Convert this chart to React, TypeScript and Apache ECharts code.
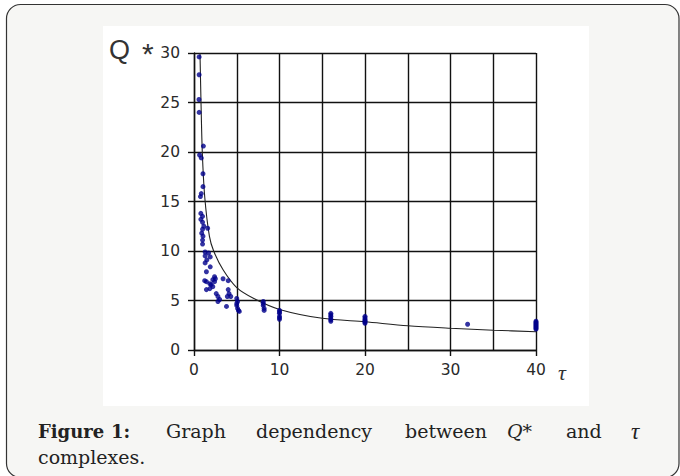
import React, { useEffect, useRef } from "react";
import * as echarts from "echarts";

// Scatter points (tau, Q*)
const tauValues = [
  0.6, 0.6, 0.58, 0.6, 1.1, 0.65, 0.85, 1.05, 1.05, 0.85, 0.75,
  0.8, 1.0, 0.8, 1.0, 1.15, 1.0, 1.6, 0.9, 1.05, 1.0, 1.0,
  1.3, 1.7, 1.3, 1.9, 1.5, 1.3, 1.9, 1.45,
  1.25, 1.45, 1.85, 2.0, 2.2, 2.4, 2.2, 1.45, 1.85, 2.4, 2.5,
  3.4, 4.0, 2.6, 2.8, 3.0, 2.8, 4.0, 4.1, 4.3, 3.9, 3.8,
  5.0, 5.1, 5.0, 5.1, 5.3, 5.0, 5.2,
  8.1, 8.1, 8.2, 8.2, 8.1,
  10, 10, 10, 10, 10, 10,
  16, 16, 16, 16, 16, 16,
  20, 20, 20, 20, 20, 20, 20,
  32,
  40, 40, 40, 40, 40, 40, 40, 40, 40,
];
const qValues = [
  29.6, 27.8, 25.3, 24.0, 20.6, 19.7, 19.4, 17.8, 16.5, 15.8, 15.5,
  13.8, 13.5, 13.2, 12.9, 12.5, 12.2, 12.3, 11.8, 11.5, 11.1, 10.7,
  9.9, 9.8, 9.5, 9.4, 9.1, 8.8, 8.4, 7.9,
  7.0, 6.9, 6.7, 6.6, 7.1, 6.9, 6.4, 6.1, 6.2, 7.4, 7.2,
  7.2, 7.0, 5.7, 5.4, 5.1, 4.9, 6.1, 5.7, 5.4, 5.4, 4.4,
  5.2, 4.9, 4.5, 4.2, 3.9, 4.7, 4.0,
  4.9, 4.5, 4.2, 4.0, 4.7,
  4.0, 3.7, 3.4, 3.1, 3.85, 3.25,
  3.7, 3.4, 3.2, 2.9, 3.55, 3.05,
  3.4, 3.1, 2.9, 2.7, 3.25, 3.0, 2.8,
  2.6,
  2.9, 2.8, 2.7, 2.6, 2.5, 2.4, 2.3, 2.2, 2.1,
];

// Fitted curve
const curveTau = [0.7, 0.82, 0.97, 1.25, 1.8, 2.3, 3.4, 5, 7, 10, 15, 20, 25, 30, 35, 40];
const curveQ = [30, 25, 20, 15.5, 11.5, 10, 8.1, 6.3, 5.2, 4.1, 3.2, 2.85, 2.45, 2.2, 2.0, 1.85];

const xTicks = [0, 40, 10];
const yTicks = [0, 30, 5];

const captionWords = [
  { text: "Figure", bold: true, italic: false },
  { text: "1:", bold: true, italic: false },
  { text: "Graph", bold: false, italic: false },
  { text: "dependency", bold: false, italic: false },
  { text: "between", bold: false, italic: false },
  { text: "Q*", bold: false, italic: true },
  { text: "and", bold: false, italic: false },
];
const captionX = [38, 111, 166, 256, 405, 507, 566];

export default function App() {
  const ref = useRef<HTMLDivElement>(null);
  useEffect(() => {
    if (!ref.current) return;
    const chart = echarts.init(ref.current, null, { renderer: "svg" });
    const scatter = tauValues.map((t, i) => [t, qValues[i]]);
    const curve = curveTau.map((t, i) => [t, curveQ[i]]);
    const capFont = "DejaVu Serif";
    const graphic: any[] = [
      {
        type: "rect",
        z: -10,
        shape: { x: 6.5, y: 4.5, width: 672.5, height: 473, r: 14 },
        style: { fill: "#f6f6f4", stroke: "#333", lineWidth: 1.2 },
      },
      {
        type: "rect",
        z: -9,
        shape: { x: 103, y: 26, width: 486, height: 380 },
        style: { fill: "#ffffff" },
      },
      {
        type: "text",
        x: 109,
        y: 50,
        style: { text: "Q", fontSize: 27, fontFamily: "Liberation Sans", fill: "#333", verticalAlign: "middle" },
      },
      {
        type: "text",
        x: 142,
        y: 53,
        style: { text: "*", fontSize: 30, fontFamily: "Liberation Sans", fill: "#333", verticalAlign: "middle" },
      },
      {
        type: "text",
        x: 558,
        y: 372,
        style: { text: "τ", fontSize: 22, fontStyle: "italic", fontFamily: "Liberation Serif", fill: "#333", verticalAlign: "middle" },
      },
    ];
    captionWords.forEach((w, i) => {
      graphic.push({
        type: "text",
        x: captionX[i],
        y: 431,
        style: {
          text: w.text,
          fontSize: w.bold ? 18 : 19,
          fontFamily: capFont,
          fontWeight: w.bold ? "bold" : "normal",
          fontStyle: w.italic ? "italic" : "normal",
          fill: "#222",
          verticalAlign: "middle",
        },
      });
    });
    graphic.push({
      type: "text",
      x: 631,
      y: 431,
      style: { text: "τ", fontSize: 23, fontStyle: "italic", fontFamily: "Liberation Serif", fill: "#222", verticalAlign: "middle" },
    });
    graphic.push({
      type: "text",
      x: 38,
      y: 457,
      style: { text: "complexes.", fontSize: 19, fontFamily: capFont, fill: "#222", verticalAlign: "middle" },
    });

    const lineCol = "#111";
    const labelStyle = { fontSize: 15.5, fontFamily: "DejaVu Sans", color: "#2a2a2a" };
    chart.setOption({
      animation: false,
      graphic,
      grid: { left: 194, top: 53, width: 342, height: 297, containLabel: false },
      xAxis: {
        type: "value",
        min: xTicks[0],
        max: xTicks[1],
        interval: xTicks[2],
        axisLine: { show: true, lineStyle: { color: lineCol, width: 1.4 } },
        axisTick: { show: true, length: 6, lineStyle: { color: lineCol, width: 1.4 } },
        axisLabel: { ...labelStyle, margin: 12 },
        splitLine: { show: true, lineStyle: { color: lineCol, width: 1.4 } },
        minorTick: { show: false, splitNumber: 2 },
        minorSplitLine: { show: true, lineStyle: { color: lineCol, width: 1.4 } },
      },
      yAxis: {
        type: "value",
        min: yTicks[0],
        max: yTicks[1],
        interval: yTicks[2],
        axisLine: { show: true, lineStyle: { color: lineCol, width: 1.4 } },
        axisTick: { show: true, length: 6, lineStyle: { color: lineCol, width: 1.4 } },
        axisLabel: { ...labelStyle, margin: 14 },
        splitLine: { show: true, lineStyle: { color: lineCol, width: 1.4 } },
      },
      series: [
        {
          type: "line",
          data: curve,
          showSymbol: false,
          smooth: 0.3,
          lineStyle: { color: "#222", width: 1.1 },
          z: 2,
        },
        {
          type: "scatter",
          data: scatter,
          symbolSize: 5,
          itemStyle: { color: "#00008b" },
          z: 3,
        },
      ],
    });
    return () => chart.dispose();
  }, []);
  return (
    <div
      ref={ref}
      style={{ position: "absolute", left: 0, top: 0, width: 680, height: 476, background: "#fff" }}
    />
  );
}
